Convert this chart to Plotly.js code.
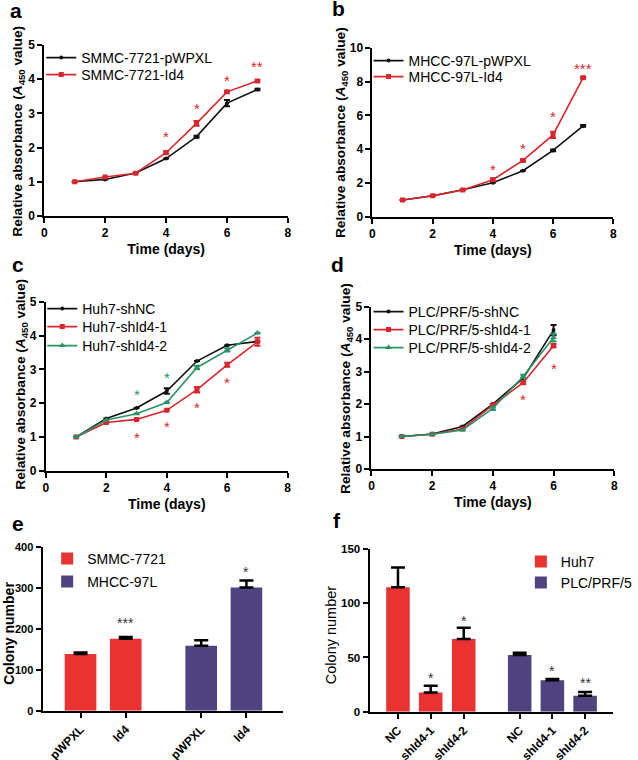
<!DOCTYPE html>
<html>
<head>
<meta charset="utf-8">
<script src="https://cdn.plot.ly/plotly-3.0.1.min.js"></script>
<style>html,body{margin:0;padding:0;background:#fff}#chart{width:638px;height:760px}</style>
</head>
<body>
<div id="chart"></div>
<script>
// ---------- DATA ----------
const days = [1, 2, 3, 4, 5, 6, 7];
const daysD = [1, 2, 3, 4, 5, 6];

// Panel a
const aNames = ['SMMC-7721-pWPXL', 'SMMC-7721-Id4'];
const aCtrl = [1.0, 1.07, 1.26, 1.68, 2.32, 3.30, 3.70];
const aCtrlErr = [null, null, null, null, 0.03, 0.09, 0.02];
const aId4 = [1.0, 1.14, 1.25, 1.85, 2.71, 3.63, 3.95];
const aId4Err = [null, null, null, 0.04, 0.07, 0.02, 0.02];
const aStarX = [4, 5, 6, 7];
const aStarY = [2.44, 3.25, 4.07, 4.48];
const aStarT = ['*', '*', '*', '**'];

// Panel b
const bNames = ['MHCC-97L-pWPXL', 'MHCC-97L-Id4'];
const bCtrl = [1.0, 1.26, 1.61, 2.02, 2.73, 3.93, 5.38];
const bCtrlErr = [null, null, null, null, null, 0.05, 0.05];
const bId4 = [1.0, 1.25, 1.60, 2.20, 3.34, 4.85, 8.23];
const bId4Err = [null, null, null, 0.08, 0.06, 0.18, 0.05];
const bStarX = [4, 5, 6, 7];
const bStarY = [3.05, 4.3, 6.2, 9.0];
const bStarT = ['*', '*', '*', '***'];

// Panel c
const cNames = ['Huh7-shNC', 'Huh7-shId4-1', 'Huh7-shId4-2'];
const cNC = [1.0, 1.55, 1.86, 2.36, 3.25, 3.72, 3.83];
const cNCErr = [null, null, null, 0.08, null, null, null];
const cSh1 = [1.0, 1.43, 1.52, 1.79, 2.40, 3.14, 3.82];
const cSh1Err = [null, null, null, null, 0.08, 0.06, 0.12];
const cSh2 = [1.0, 1.50, 1.69, 2.02, 3.06, 3.58, 4.08];
const cSh2Err = [null, null, null, null, 0.05, 0.05, null];
const cGreenStarX = [3, 4];
const cGreenStarY = [2.38, 2.87];
const cRedStarX = [3, 4, 5, 6];
const cRedStarY = [1.09, 1.44, 1.99, 2.74];

// Panel d
const dNames = ['PLC/PRF/5-shNC', 'PLC/PRF/5-shId4-1', 'PLC/PRF/5-shId4-2'];
const dNC = [1.0, 1.08, 1.31, 2.0, 2.8, 4.28];
const dNCErr = [null, null, null, null, null, 0.16];
const dSh1 = [1.0, 1.07, 1.23, 1.97, 2.66, 3.80];
const dSh1Err = [null, null, null, null, 0.04, 0.05];
const dSh2 = [1.0, 1.07, 1.20, 1.87, 2.85, 4.05];
const dSh2Err = [null, null, null, 0.05, 0.05, 0.12];
const dStarX = [5, 6];
const dStarY = [2.25, 3.22];

// Panel e
const eLabels = ['pWPXL', 'Id4', 'pWPXL', 'Id4'];
const eSeries = ['SMMC-7721', 'MHCC-97L'];
const eSMMC = [138.5, 176];
const eSMMCErr = [4, 4];
const eMHCC = [159, 301];
const eMHCCErr = [13, 17];
const eStars = ['', '***', '', '*'];
const eStarY = [0, 225, 0, 348];

// Panel f
const fLabels = ['NC', 'shId4-1', 'shId4-2', 'NC', 'shId4-1', 'shId4-2'];
const fSeries = ['Huh7', 'PLC/PRF/5'];
const fHuh7 = [114.7, 17.8, 67.0];
const fHuh7Err = [18.3, 6.2, 10.5];
const fPLC = [52.3, 28.9, 14.8];
const fPLCErr = [2.1, 1.2, 3.3];
const fStars = ['', '*', '*', '', '*', '**'];
const fStarY = [0, 34.7, 87, 0, 41.5, 29.8];

// ---------- STYLE / LAYOUT ----------
const W = 638, H = 760;
const BLACK = '#111111', RED = '#D9262C', GREEN = '#2A9466';
const BARRED = '#EA3232', PURPLE = '#51437F';
const FONT = 'Liberation Sans, Arial, Helvetica, sans-serif';
const px = x => x / W;
const py = y => 1 - y / H;

// pixel boxes [left, right, top, bottom]
const boxes = {
  a: [45, 293, 45, 216],
  b: [379, 624, 47.7, 217],
  c: [46.7, 292.7, 302, 470.7],
  d: [378, 625, 306.7, 469],
  e: [43.3, 288, 547, 710.7],
  f: [376, 624, 549, 711.7]
};

function axisBase() {
  return {
    showline: true, linecolor: '#000', linewidth: 2,
    ticks: 'outside', ticklen: 5, tickwidth: 2, tickcolor: '#000',
    showgrid: false, zeroline: false, fixedrange: true,
    tickfont: {family: FONT, size: 12, color: '#000', weight: 'bold'}
  };
}

const layout = {
  width: W, height: H,
  margin: {l: 0, r: 0, t: 0, b: 0},
  paper_bgcolor: '#fff', plot_bgcolor: 'rgba(0,0,0,0)',
  font: {family: FONT, color: '#000'},
  showlegend: true,
  annotations: []
};

const ids = ['a', 'b', 'c', 'd', 'e', 'f'];
ids.forEach((k, i) => {
  const n = i + 1;
  const xa = 'xaxis' + (n === 1 ? '' : n);
  const ya = 'yaxis' + (n === 1 ? '' : n);
  const bx = boxes[k];
  layout[xa] = Object.assign(axisBase(), {
    domain: [px(bx[0]), px(bx[1])],
    anchor: 'y' + (n === 1 ? '' : n)
  });
  layout[ya] = Object.assign(axisBase(), {
    domain: [py(bx[3]), py(bx[2])],
    anchor: 'x' + (n === 1 ? '' : n)
  });
});

// line panels axes
[['xaxis', 'yaxis', 5, 1], ['xaxis2', 'yaxis2', 10, 2], ['xaxis3', 'yaxis3', 5, 1], ['xaxis4', 'yaxis4', 5, 1]].forEach(([xa, ya, ymax, dt]) => {
  Object.assign(layout[xa], {range: [0, 8], tickvals: [0, 2, 4, 6, 8],
    title: {text: '<b>Time (days)</b>', font: {family: FONT, size: 14}, standoff: 5}});
  Object.assign(layout[ya], {range: [0, ymax], dtick: dt, tick0: 0});
});

// bar panels axes
const ePos = [0.84, 1.84, 3.51, 4.51];
const fPos = [0.87, 1.87, 2.88, 4.59, 5.59, 6.59];
Object.assign(layout.xaxis5, {range: [0, 5.32], tickvals: ePos, ticktext: eLabels, tickangle: -45,
  tickfont: {family: FONT, size: 12, color: '#000', weight: 'bold'}});
Object.assign(layout.yaxis5, {range: [0, 400], dtick: 100,
  tickfont: {family: FONT, size: 11, color: '#000', weight: 'bold'}});
Object.assign(layout.xaxis6, {range: [0, 7.45], tickvals: fPos, ticktext: fLabels, tickangle: -45,
  tickfont: {family: FONT, size: 12, color: '#000', weight: 'bold'}});
Object.assign(layout.yaxis6, {range: [0, 150], dtick: 50,
  tickfont: {family: FONT, size: 11.5, color: '#000', weight: 'bold'}});

// y-axis titles (rotated text placed beside each axis)
const yTitleAbs = '<b>Relative absorbance (<i>A</i><sub>450</sub> value)</b>';
[[yTitleAbs, 18, 131, 13.7], [yTitleAbs, 347, 133, 13.7], [yTitleAbs, 21, 384, 13.7], [yTitleAbs, 352, 388, 13.7],
 ['<b>Colony number</b>', 9, 633, 14], ['Colony number', 337, 635, 14.5]].forEach(([t, x, y, s]) => {
  layout.annotations.push({text: t, x: px(x), y: py(y), xref: 'paper', yref: 'paper', textangle: -90,
    showarrow: false, xanchor: 'center', yanchor: 'middle', font: {family: FONT, size: s, color: '#000'}});
});

// legends: one per item so each row can be placed where the reference shows it
let legCount = 0;
function newLegend(textLeftPx, rowCenterPx, size) {
  legCount += 1;
  const key = legCount === 1 ? 'legend' : 'legend' + legCount;
  layout[key] = {
    x: px(textLeftPx - 40), y: py(rowCenterPx), xanchor: 'left', yanchor: 'middle',
    bgcolor: 'rgba(0,0,0,0)', borderwidth: 0,
    font: {family: FONT, size: size || 14, color: '#000'},
    itemwidth: 30
  };
  return key;
}

// panel letters
[['a', 16, 10], ['b', 344, 8], ['c', 18, 265], ['d', 343, 265], ['e', 18, 523], ['f', 343, 520]].forEach(([t, x, y]) => {
  layout.annotations.push({text: '<b>' + t + '</b>', x: px(x), y: py(y), xref: 'paper', yref: 'paper',
    showarrow: false, xanchor: 'center', yanchor: 'middle', font: {family: FONT, size: 21, color: '#000'}});
});

// ---------- TRACES ----------
const traces = [];
function lineTrace(x, y, err, name, color, symbol, msize, xa, ya, leg) {
  return {
    type: 'scatter', mode: 'lines+markers', x: x, y: y, name: name,
    xaxis: xa, yaxis: ya, legend: leg,
    line: {color: color, width: 1.6},
    marker: {color: color, symbol: symbol, size: msize},
    error_y: {type: 'data', array: err, visible: true, color: color, thickness: 2, width: 3}
  };
}
traces.push(lineTrace(days, aCtrl, aCtrlErr, aNames[0], BLACK, 'circle', 4, 'x', 'y', newLegend(82, 58)));
traces.push(lineTrace(days, aId4, aId4Err, aNames[1], RED, 'square', 5, 'x', 'y', newLegend(82, 75)));
traces.push(lineTrace(days, bCtrl, bCtrlErr, bNames[0], BLACK, 'circle', 4, 'x2', 'y2', newLegend(415, 61)));
traces.push(lineTrace(days, bId4, bId4Err, bNames[1], RED, 'square', 5, 'x2', 'y2', newLegend(415, 77)));
traces.push(lineTrace(days, cNC, cNCErr, cNames[0], BLACK, 'circle', 4, 'x3', 'y3', newLegend(83, 309)));
traces.push(lineTrace(days, cSh1, cSh1Err, cNames[1], RED, 'square', 5, 'x3', 'y3', newLegend(83, 327)));
traces.push(lineTrace(days, cSh2, cSh2Err, cNames[2], GREEN, 'triangle-up', 6, 'x3', 'y3', newLegend(83, 346)));
traces.push(lineTrace(daysD, dNC, dNCErr, dNames[0], BLACK, 'circle', 4, 'x4', 'y4', newLegend(415, 312)));
traces.push(lineTrace(daysD, dSh1, dSh1Err, dNames[1], RED, 'square', 5, 'x4', 'y4', newLegend(415, 330)));
traces.push(lineTrace(daysD, dSh2, dSh2Err, dNames[2], GREEN, 'triangle-up', 6, 'x4', 'y4', newLegend(415, 348)));

function barTrace(x, y, err, name, color, width, xa, ya, leg) {
  return {
    type: 'bar', x: x, y: y, name: name, width: width,
    xaxis: xa, yaxis: ya, legend: leg,
    marker: {color: color, line: {width: 0}},
    error_y: {type: 'data', symmetric: false, array: err, arrayminus: err.map(() => 0),
      visible: true, color: '#000', thickness: 2.5, width: 7}
  };
}
traces.push(barTrace(ePos.slice(0, 2), eSMMC, eSMMCErr, eSeries[0], BARRED, 0.70, 'x5', 'y5', newLegend(88, 559, 14)));
traces.push(barTrace(ePos.slice(2, 4), eMHCC, eMHCCErr, eSeries[1], PURPLE, 0.70, 'x5', 'y5', newLegend(88, 582, 14)));
traces.push(barTrace(fPos.slice(0, 3), fHuh7, fHuh7Err, fSeries[0], BARRED, 0.72, 'x6', 'y6', newLegend(570, 562, 14)));
traces.push(barTrace(fPos.slice(3, 6), fPLC, fPLCErr, fSeries[1], PURPLE, 0.72, 'x6', 'y6', newLegend(570, 583, 14)));

// ---------- STAR ANNOTATIONS ----------
function star(x, y, t, color, xa, ya, size) {
  layout.annotations.push({text: t, x: x, y: y, xref: xa, yref: ya, showarrow: false,
    xanchor: 'center', yanchor: 'middle', yshift: -4,
    font: {family: FONT, size: size || 15, color: color}});
}
aStarX.forEach((x, i) => star(x, aStarY[i], aStarT[i], RED, 'x', 'y'));
bStarX.forEach((x, i) => star(x, bStarY[i], bStarT[i], RED, 'x2', 'y2'));
cGreenStarX.forEach((x, i) => star(x, cGreenStarY[i], '*', GREEN, 'x3', 'y3'));
cRedStarX.forEach((x, i) => star(x, cRedStarY[i], '*', RED, 'x3', 'y3'));
dStarX.forEach((x, i) => star(x, dStarY[i], '*', RED, 'x4', 'y4'));
eStars.forEach((t, i) => { if (t) star(ePos[i], eStarY[i], t, '#333', 'x5', 'y5', 14); });
fStars.forEach((t, i) => { if (t) star(fPos[i], fStarY[i], t, '#333', 'x6', 'y6', 14); });

Plotly.newPlot('chart', traces, layout, {displayModeBar: false, staticPlot: true});
</script>
</body>
</html>
